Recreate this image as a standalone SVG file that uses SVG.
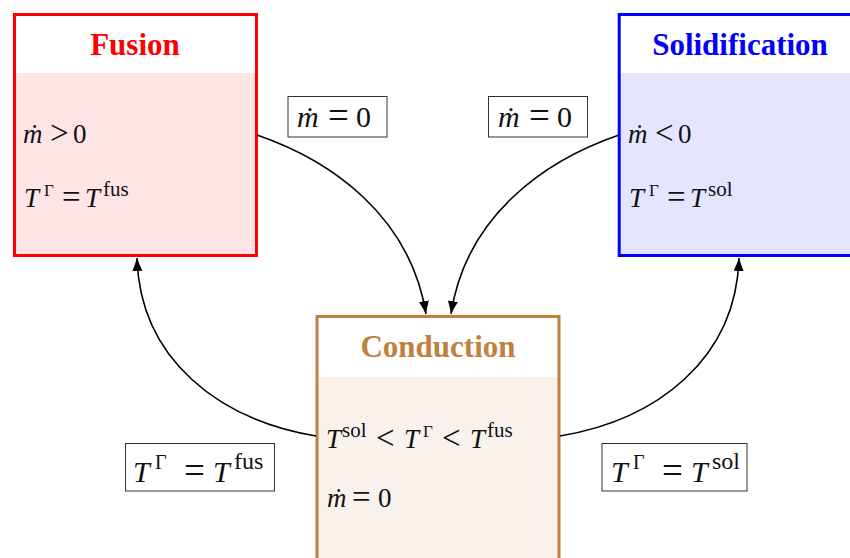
<svg xmlns="http://www.w3.org/2000/svg" width="850" height="558" viewBox="0 0 850 558">
<style>
.title{font-family:"Liberation Serif","DejaVu Serif",serif;font-weight:bold;font-size:31px;text-anchor:middle}
.m{font-family:"Liberation Serif","DejaVu Serif",serif;font-size:27px;fill:#111}
.ml{font-family:"Liberation Serif","DejaVu Serif",serif;font-size:30px;fill:#111}
.i{font-style:italic}
.op{font-size:33px}
.opl{font-size:37px}
.sup{font-size:21px}
.g{font-size:17px}
.supl{font-size:24px}
.gl{font-size:20px}
.edge{fill:none;stroke:#000;stroke-width:1.6}
.lbl{fill:#fff;stroke:#333;stroke-width:1}
</style>
<defs>
<marker id="arr" markerUnits="userSpaceOnUse" markerWidth="15" markerHeight="11" refX="13" refY="5" orient="auto">
<path d="M0,0 Q7,3 13,5 Q7,7 0,10 Z" fill="#000"/>
</marker>
</defs>
<rect width="850" height="558" fill="#fff"/>

<g id="fusion">
<rect x="14.5" y="14.5" width="242" height="241" fill="#fff"/>
<rect x="14.5" y="73" width="242" height="182.5" fill="#fde5e5"/>
<rect x="14.5" y="14.5" width="242" height="241" fill="none" stroke="#ff0000" stroke-width="3"/>
<text class="title" x="135" y="55" fill="#ff0000">Fusion</text>
<text class="m"><tspan class="i" x="23" y="143">ṁ</tspan><tspan class="op" x="50" y="144">&gt;</tspan><tspan x="73" y="143">0</tspan></text>
<text class="m"><tspan class="i" x="24" y="207">T</tspan><tspan class="g" x="44" y="196">Γ</tspan><tspan class="op" x="62" y="208">=</tspan><tspan class="i" x="85" y="207">T</tspan><tspan class="sup" x="103" y="196">fus</tspan></text>
</g>

<g id="solidification">
<rect x="619.2" y="14.5" width="242" height="241" fill="#fff"/>
<rect x="619.2" y="73" width="242" height="182.5" fill="#e5e5ff"/>
<rect x="619.2" y="14.5" width="242" height="241" fill="none" stroke="#0000ff" stroke-width="3"/>
<text class="title" x="740" y="55" fill="#0000ff">Solidification</text>
<text class="m"><tspan class="i" x="628" y="143">ṁ</tspan><tspan class="op" x="655" y="144">&lt;</tspan><tspan x="678" y="143">0</tspan></text>
<text class="m"><tspan class="i" x="629" y="207">T</tspan><tspan class="g" x="649" y="196">Γ</tspan><tspan class="op" x="667" y="208">=</tspan><tspan class="i" x="690" y="207">T</tspan><tspan class="sup" x="708" y="196">sol</tspan></text>
</g>

<g id="conduction">
<rect x="317" y="316.5" width="242" height="245" fill="#fff"/>
<rect x="317" y="377" width="242" height="184" fill="#f8f1ec"/>
<rect x="317" y="316.5" width="242" height="245" fill="none" stroke="#bf8040" stroke-width="3"/>
<text class="title" x="438" y="357" fill="#bf8040">Conduction</text>
<text class="m"><tspan class="i" x="326" y="448">T</tspan><tspan class="sup" x="342" y="437">sol</tspan><tspan class="op" x="376" y="449">&lt;</tspan><tspan class="i" x="404" y="448">T</tspan><tspan class="g" x="423" y="437">Γ</tspan><tspan class="op" x="442" y="449">&lt;</tspan><tspan class="i" x="470" y="448">T</tspan><tspan class="sup" x="487" y="437">fus</tspan></text>
<text class="m"><tspan class="i" x="327" y="507">ṁ</tspan><tspan class="op" x="352" y="508">=</tspan><tspan x="378" y="507">0</tspan></text>
</g>

<g id="connectors">
<path class="edge" d="M257,135 C330,160 410,215 426,314" marker-end="url(#arr)"/>
<path class="edge" d="M619,135 C546,160 466,215 451,314" marker-end="url(#arr)"/>
<path class="edge" d="M316,436 C220,420 140,360 137,258" marker-end="url(#arr)"/>
<path class="edge" d="M560,436 C656,420 736,360 739,258" marker-end="url(#arr)"/>
</g>

<g id="label-fusion-conduction">
<rect class="lbl" x="288" y="96.5" width="99" height="40.5"/>
<text class="ml"><tspan class="i" x="297" y="127">ṁ</tspan><tspan class="opl" x="328" y="128">=</tspan><tspan x="356" y="127">0</tspan></text>
</g>
<g id="label-solid-conduction">
<rect class="lbl" x="488.5" y="96.5" width="99" height="40.5"/>
<text class="ml"><tspan class="i" x="498" y="127">ṁ</tspan><tspan class="opl" x="529" y="128">=</tspan><tspan x="557" y="127">0</tspan></text>
</g>
<g id="label-conduction-fusion">
<rect class="lbl" x="125.5" y="443.5" width="149" height="47.5"/>
<text class="ml"><tspan class="i" x="133" y="482">T</tspan><tspan class="gl" x="155" y="469">Γ</tspan><tspan class="opl" x="184" y="483">=</tspan><tspan class="i" x="213" y="482">T</tspan><tspan class="supl" x="234" y="469">fus</tspan></text>
</g>
<g id="label-conduction-solid">
<rect class="lbl" x="602" y="443.5" width="145" height="47.5"/>
<text class="ml"><tspan class="i" x="611" y="482">T</tspan><tspan class="gl" x="633" y="469">Γ</tspan><tspan class="opl" x="662" y="483">=</tspan><tspan class="i" x="691" y="482">T</tspan><tspan class="supl" x="712" y="469">sol</tspan></text>
</g>
</svg>
